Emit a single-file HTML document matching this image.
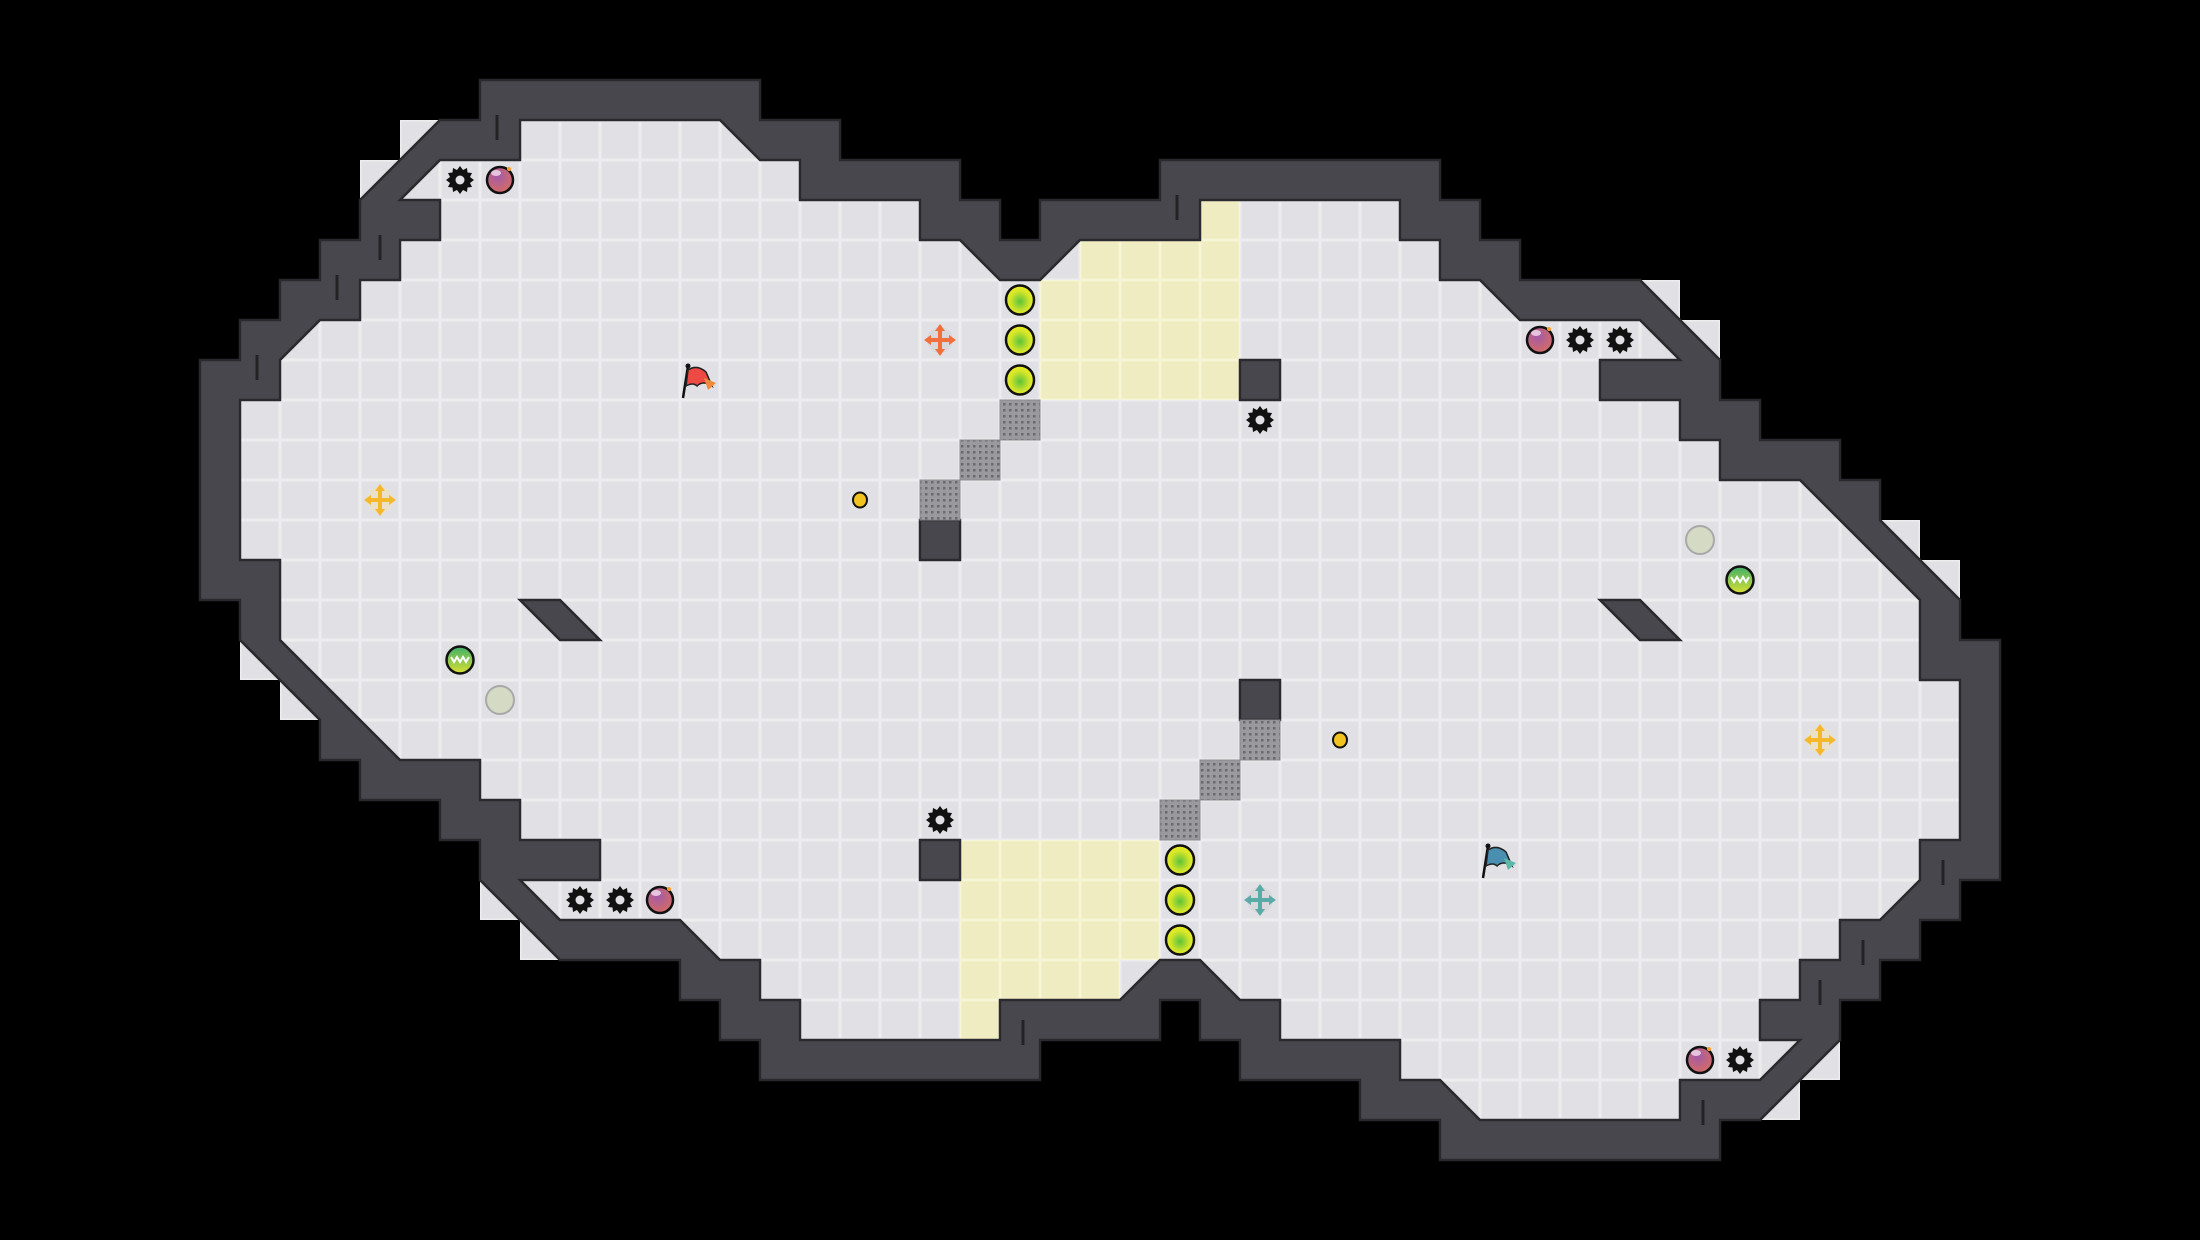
<!DOCTYPE html>
<html><head><meta charset="utf-8"><style>html,body{margin:0;padding:0;background:#000;}svg{display:block}</style></head>
<body>
<svg width="2200" height="1240" viewBox="0 0 2200 1240" xmlns="http://www.w3.org/2000/svg">
<defs>
<pattern id="g" x="200" y="80" width="40" height="40" patternUnits="userSpaceOnUse">
<rect width="40" height="40" fill="#ededf0"/>
<rect x="1.5" y="1.5" width="37" height="37" fill="#e1e1e5"/>
</pattern>
<pattern id="y" x="200" y="80" width="40" height="40" patternUnits="userSpaceOnUse">
<rect width="40" height="40" fill="#f6f5d6"/>
<rect x="1.5" y="1.5" width="37" height="37" fill="#eeecc0"/>
</pattern>
<pattern id="gr" width="6" height="6" patternUnits="userSpaceOnUse">
<rect width="6" height="6" fill="#9a9a9e"/><rect x="1" y="1" width="2.5" height="2.5" fill="#6a6a6e"/>
</pattern>
<radialGradient id="yc" cx="0.5" cy="0.55" r="0.5"><stop offset="0" stop-color="#5cc23a"/><stop offset="0.7" stop-color="#d3e52a"/><stop offset="1" stop-color="#e8ee20"/></radialGradient>
<radialGradient id="bm" cx="0.4" cy="0.35" r="0.6"><stop offset="0" stop-color="#a35aa8"/><stop offset="1" stop-color="#d06a6a"/></radialGradient>
<linearGradient id="ch" x1="0" y1="0" x2="0" y2="1"><stop offset="0" stop-color="#3fb06a"/><stop offset="1" stop-color="#d8e030"/></linearGradient>
<g id="gear"><polygon fill="#111" points="0,-14 3,-10 7,-12 7.5,-7.5 12,-7 10,-3 14,0 10,3 12,7 7.5,7.5 7,12 3,10 0,14 -3,10 -7,12 -7.5,7.5 -12,7 -10,3 -14,0 -10,-3 -12,-7 -7.5,-7.5 -7,-12 -3,-10"/><circle r="4.5" fill="#e1e1e5"/></g>
<g id="bomb"><circle r="13" fill="url(#bm)" stroke="#111" stroke-width="2.5"/><ellipse cx="-4" cy="-7" rx="5" ry="3" fill="#f2dff0" opacity="0.8"/><circle cx="9" cy="-11" r="2" fill="#f0a030"/></g>
<g id="yel"><ellipse rx="14" ry="14.5" fill="url(#yc)" stroke="#111" stroke-width="2.5"/></g>
<g id="cross"><path d="M0,-16 L5,-9 L2,-9 L2,-2 L9,-2 L9,-5 L16,0 L9,5 L9,2 L2,2 L2,9 L5,9 L0,16 L-5,9 L-2,9 L-2,2 L-9,2 L-9,5 L-16,0 L-9,-5 L-9,-2 L-2,-2 L-2,-9 L-5,-9 Z"/></g>
</defs>
<rect width="2200" height="1240" fill="#000"/>
<!-- floor grid inside outer polygon -->
<polygon fill="url(#g)" points="240,620 240,600 200,600 200,360 240,360 240,320 280,320 280,280 320,280 320,240 360,240 360,200 440,120 480,120 480,80 760,80 760,120 840,120 840,160 960,160 960,200 1000,200 1000,240 1040,240 1040,200 1160,200 1160,160 1440,160 1440,200 1480,200 1480,240 1520,240 1520,280 1640,280 1720,360 1720,400 1760,400 1760,440 1840,440 1840,480 1880,480 1880,520 1960,600 1960,620 1960,640 2000,640 2000,880 1960,880 1960,920 1920,920 1920,960 1880,960 1880,1000 1840,1000 1840,1040 1760,1120 1720,1120 1720,1160 1440,1160 1440,1120 1360,1120 1360,1080 1240,1080 1240,1040 1200,1040 1200,1000 1160,1000 1160,1040 1040,1040 1040,1080 760,1080 760,1040 720,1040 720,1000 680,1000 680,960 560,960 480,880 480,840 440,840 440,800 360,800 360,760 320,760 320,720 240,640"/>
<!-- extra light cells outside diagonals -->
<g fill="url(#g)">
<rect x="400" y="120" width="40" height="40"/><rect x="360" y="160" width="40" height="40"/>
<rect x="1640" y="280" width="40" height="40"/><rect x="1680" y="320" width="40" height="40"/>
<rect x="1880" y="520" width="40" height="40"/><rect x="1920" y="560" width="40" height="40"/>
<rect x="1760" y="1080" width="40" height="40"/><rect x="1800" y="1040" width="40" height="40"/>
<rect x="520" y="920" width="40" height="40"/><rect x="480" y="880" width="40" height="40"/>
<rect x="280" y="680" width="40" height="40"/><rect x="240" y="640" width="40" height="40"/>
</g>
<!-- yellow zones -->
<g fill="url(#y)">
<rect x="1200" y="200" width="40" height="40"/><rect x="1080" y="240" width="160" height="40"/><rect x="1040" y="280" width="200" height="120"/>
<rect x="960" y="1000" width="40" height="40"/><rect x="960" y="960" width="160" height="40"/><rect x="960" y="840" width="200" height="120"/>
</g>
<!-- walls -->
<path fill="#48474d" stroke="#2a2a2e" stroke-width="2.5" stroke-linejoin="miter" fill-rule="evenodd" d="M240,620 L240,600 200,600 200,360 240,360 240,320 280,320 280,280 320,280 320,240 360,240 360,200 440,120 480,120 480,80 760,80 760,120 840,120 840,160 960,160 960,200 1000,200 1000,240 1040,240 1040,200 1160,200 1160,160 1440,160 1440,200 1480,200 1480,240 1520,240 1520,280 1640,280 1720,360 1720,400 1760,400 1760,440 1840,440 1840,480 1880,480 1880,520 1960,600 1960,620 1960,640 2000,640 2000,880 1960,880 1960,920 1920,920 1920,960 1880,960 1880,1000 1840,1000 1840,1040 1760,1120 1720,1120 1720,1160 1440,1160 1440,1120 1360,1120 1360,1080 1240,1080 1240,1040 1200,1040 1200,1000 1160,1000 1160,1040 1040,1040 1040,1080 760,1080 760,1040 720,1040 720,1000 680,1000 680,960 560,960 480,880 480,840 440,840 440,800 360,800 360,760 320,760 320,720 240,640 Z
M280,620 L280,560 240,560 240,400 280,400 280,360 320,320 360,320 360,280 400,280 400,240 440,240 440,200 400,200 440,160 520,160 520,120 720,120 760,160 800,160 800,200 920,200 920,240 960,240 1000,280 1040,280 1080,240 1200,240 1200,200 1400,200 1400,240 1440,240 1440,280 1480,280 1520,320 1640,320 1680,360 1600,360 1600,400 1680,400 1680,440 1720,440 1720,480 1800,480 1920,600 1920,620 1920,680 1960,680 1960,840 1920,840 1920,880 1880,920 1840,920 1840,960 1800,960 1800,1000 1760,1000 1760,1040 1800,1040 1760,1080 1680,1080 1680,1120 1480,1120 1440,1080 1400,1080 1400,1040 1280,1040 1280,1000 1240,1000 1200,960 1160,960 1120,1000 1000,1000 1000,1040 800,1040 800,1000 760,1000 760,960 720,960 680,920 560,920 520,880 600,880 600,840 520,840 520,800 480,800 480,760 400,760 280,640 Z"/>
<!-- wall seam ticks -->
<g stroke="#232326" stroke-width="3">
<line x1="497" y1="115" x2="497" y2="140"/><line x1="380" y1="235" x2="380" y2="260"/><line x1="337" y1="275" x2="337" y2="300"/><line x1="257" y1="355" x2="257" y2="380"/>
<line x1="1177" y1="195" x2="1177" y2="220"/>
<line x1="1703" y1="1100" x2="1703" y2="1125"/><line x1="1820" y1="980" x2="1820" y2="1005"/><line x1="1863" y1="940" x2="1863" y2="965"/><line x1="1943" y1="860" x2="1943" y2="885"/>
<line x1="1023" y1="1020" x2="1023" y2="1045"/>
</g>
<!-- interior blocks -->
<g fill="#48474d" stroke="#2a2a2e" stroke-width="2.5">
<polygon points="520,600 560,600 600,640 560,640"/><polygon points="1600,600 1640,600 1680,640 1640,640"/>
<rect x="920" y="520" width="40" height="40"/><rect x="1240" y="680" width="40" height="40"/>
<rect x="1240" y="360" width="40" height="40"/><rect x="920" y="840" width="40" height="40"/>
</g>
<g fill="url(#gr)" stroke="#8a8a8e" stroke-width="1">
<rect x="1000" y="400" width="40" height="40"/><rect x="960" y="440" width="40" height="40"/><rect x="920" y="480" width="40" height="40"/>
<rect x="1160" y="800" width="40" height="40"/><rect x="1200" y="760" width="40" height="40"/><rect x="1240" y="720" width="40" height="40"/>
</g>
<!-- yellow circles -->
<use href="#yel" x="1020" y="300"/><use href="#yel" x="1020" y="340"/><use href="#yel" x="1020" y="380"/>
<use href="#yel" x="1180" y="860"/><use href="#yel" x="1180" y="900"/><use href="#yel" x="1180" y="940"/>
<!-- gears -->
<use href="#gear" x="460" y="180"/><use href="#gear" x="1580" y="340"/><use href="#gear" x="1620" y="340"/><use href="#gear" x="1260" y="420"/>
<use href="#gear" x="1740" y="1060"/><use href="#gear" x="620" y="900"/><use href="#gear" x="580" y="900"/><use href="#gear" x="940" y="820"/>
<!-- bombs -->
<use href="#bomb" x="500" y="180"/><use href="#bomb" x="1540" y="340"/><use href="#bomb" x="1700" y="1060"/><use href="#bomb" x="660" y="900"/>
<!-- crosses -->
<circle cx="940" cy="340" r="13" fill="#d8d8dc"/><use href="#cross" x="940" y="340" fill="#f06f3c"/>
<circle cx="1260" cy="900" r="13" fill="#d8d8dc"/><use href="#cross" x="1260" y="900" fill="#5aaaa8"/>
<circle cx="380" cy="500" r="13" fill="#ebe0c8"/><use href="#cross" x="380" y="500" fill="#f5b82a"/>
<circle cx="1820" cy="740" r="13" fill="#ebe0c8"/><use href="#cross" x="1820" y="740" fill="#f5b82a"/>
<!-- coins -->
<ellipse cx="860" cy="500" rx="7" ry="7.5" fill="#f2c21e" stroke="#111" stroke-width="2"/>
<ellipse cx="1340" cy="740" rx="7" ry="7.5" fill="#f2c21e" stroke="#111" stroke-width="2"/>
<!-- chompers -->
<g><circle cx="460" cy="660" r="13.5" fill="url(#ch)" stroke="#111" stroke-width="2.5"/><path d="M451,657 l3,5 l3,-5 l3,5 l3,-5 l3,5 l3,-5" fill="none" stroke="#fff" stroke-width="2"/></g>
<g><circle cx="1740" cy="580" r="13.5" fill="url(#ch)" stroke="#111" stroke-width="2.5"/><path d="M1731,577 l3,5 l3,-5 l3,5 l3,-5 l3,5 l3,-5" fill="none" stroke="#fff" stroke-width="2"/></g>
<!-- pale circles -->
<circle cx="500" cy="700" r="14" fill="#d4dac4" stroke="#a8a8a8" stroke-width="2"/>
<circle cx="1700" cy="540" r="14" fill="#d4dac4" stroke="#a8a8a8" stroke-width="2"/>
<!-- flags -->
<g><line x1="688" y1="366" x2="683" y2="398" stroke="#111" stroke-width="2.5"/><circle cx="688" cy="366" r="2.5" fill="#111"/>
<path d="M688,370 Q697,364 706,372 L712,386 Q703,380 697,386 Q693,382 686,386 Z" fill="#ee4a44" stroke="#222" stroke-width="1.5"/><path d="M704,378 L716,383 L708,390 Z" fill="#f08a3a"/></g>
<g><line x1="1488" y1="846" x2="1483" y2="878" stroke="#111" stroke-width="2.5"/><circle cx="1488" cy="846" r="2.5" fill="#111"/>
<path d="M1488,850 Q1497,844 1506,852 L1512,866 Q1503,860 1497,866 Q1493,862 1486,866 Z" fill="#4a8fb0" stroke="#222" stroke-width="1.5"/><path d="M1504,858 L1516,863 L1508,870 Z" fill="#5bb8a8"/></g>
</svg>
</body></html>
